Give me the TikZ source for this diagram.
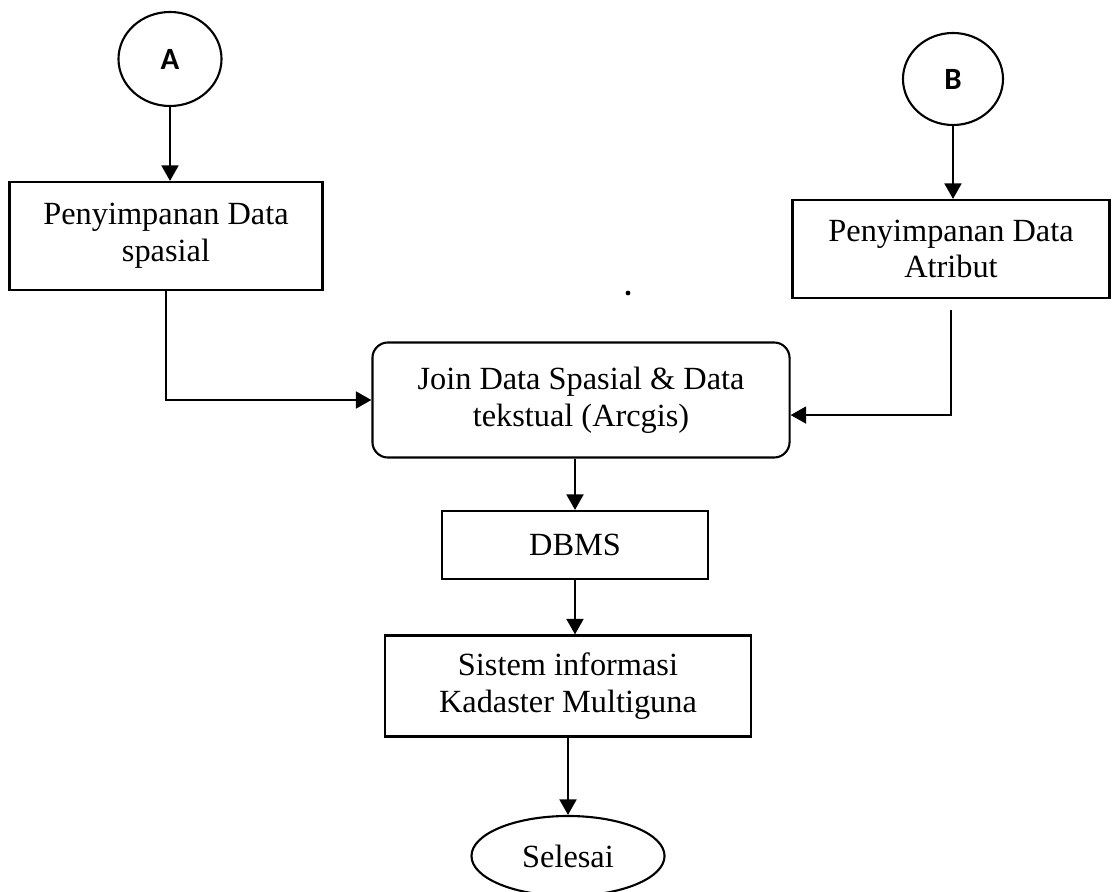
\documentclass[tikz,border=0pt]{standalone}
\usepackage{fontspec}
\setmainfont{Liberation Serif}
\newfontfamily\connfont{Carlito}
\usetikzlibrary{arrows.meta,shapes.geometric}
\begin{document}
\begin{tikzpicture} [x=0.025cm, y=-0.025cm, line width=1.5pt, every text node part/.style={align=center}, font=\fontsize{23}{26}\selectfont]
        \tikzset{
          box/.style={draw, rectangle, inner sep=0pt},
          roundbox/.style={box, rounded corners=11pt},
          conn/.style={draw, ellipse, inner sep=0pt, font=\connfont\bfseries\fontsize{22}{24}\selectfont},
          term/.style={draw, ellipse, inner sep=0pt},
          arr/.style={-{Triangle[length=11pt,width=12pt]}},
        }
        \useasboundingbox (0,0) rectangle (1112,892);
        \node [conn, minimum width=2.575cm, minimum height=2.35cm] (A) at (170,59) {A};
        \node [conn, minimum width=2.5cm, minimum height=2.3cm] (B) at (953,79) {B};
        \node [box, minimum width=7.825cm, minimum height=2.7cm] (spasial) at (166,236) {Penyimpanan Data \\ spasial};
        \node [box, minimum width=7.925cm, minimum height=2.45cm] (atribut) at (951,249) {Penyimpanan Data \\ Atribut};
        \draw [arr] (A.south) -- (A.south |- spasial.north);
        \draw [arr] (B.south) -- (B.south |- atribut.north);
        % 
        \node [roundbox, minimum width=10.425cm, minimum height=2.875cm] (join) at (581,400) {Join Data Spasial \& Data \\ tekstual (Arcgis)};
        \draw [arr] (spasial.south) |- (join.west);
        \draw [arr, shorten <=8pt] (atribut.south) |- ([yshift=-10.7pt]join.east);
        \fill (628,293) circle (0.06cm);
        % 
        \node [box, minimum width=6.65cm, minimum height=1.7cm] (dbms) at (575,545) {DBMS};
        \node [box, minimum width=9.15cm, minimum height=2.525cm] (sistem) at (568,686) {Sistem informasi \\ Kadaster Multiguna};
        \node [term, minimum width=4.825cm, minimum height=2cm] (selesai) at (568,856) {Selesai};
        \draw [arr] (dbms.north |- join.south) -- (dbms.north);
        \draw [arr] (dbms.south) -- (dbms.south |- sistem.north);
        \draw [arr] (sistem.south) -- (selesai.north);
    \end{tikzpicture}
\end{document}
